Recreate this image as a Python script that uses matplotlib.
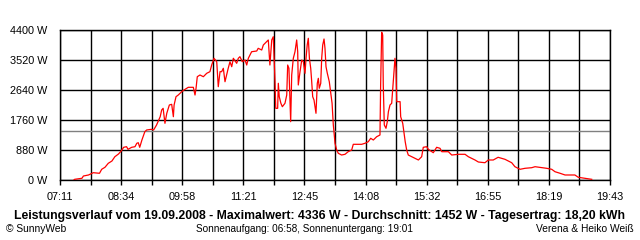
import matplotlib
matplotlib.use("Agg")
import matplotlib.pyplot as plt
import numpy as np

# time in minutes since midnight, power in W
minutes = [450, 451, 461, 463, 470, 476.5, 485, 488, 492.5, 497, 502, 506, 511, 515,
           518, 522, 524, 529, 533.5, 536, 538, 540, 543, 547, 549.5, 556, 559, 563,
           568, 570, 572, 574.5, 577, 580.5, 583.7, 586, 587, 589.6, 592.7, 597.4,
           600.5, 606.4, 613.3, 615.6, 617, 618.7, 622.4, 627, 631.6, 636, 638.4,
           641.6, 645.3, 647.4, 649.8, 652, 654.3, 656.6, 661, 663.4, 665.8, 668,
           672.6, 674.8, 677, 680.3, 684, 686.3, 688.5, 693, 700, 702, 706.8, 709,
           711.3, 715.8, 718, 720.5, 722.6, 725, 726, 728.6, 729.5, 730.8, 733, 735,
           738.6, 741, 742.3, 744, 746.4, 747.8, 750, 752.3, 754.6, 756, 756.8, 759,
           761.5, 763.7, 766, 767.4, 769, 770.5, 772, 773.8, 775, 776.5, 778.3,
           779.7, 781, 782.8, 784.2, 785.5, 787.5, 788.8, 790.2, 792, 793.3, 794.7,
           796.5, 799.2, 801, 803, 804.7, 805.6, 807, 809.3, 811.5, 816, 820.7, 825,
           829.8, 832, 843.5, 848, 852.5, 855.8, 859.4, 864, 868.5, 869.4, 870.8,
           872.2, 873, 874.4, 876.7, 878.5, 880, 882.2, 884.5, 886.7, 889, 890.4,
           891.4, 896, 896.8, 899.6, 901.4, 903, 905, 907.2, 911.8, 916.4, 921,
           925.5, 927.7, 932.4, 934.6, 941.4, 946, 950.6, 953, 962, 966.6, 975.6,
           984.8, 989.3, 998.4, 1003, 1012, 1016.6, 1023.4, 1030, 1039.4, 1048.6,
           1053, 1060, 1066.8, 1076, 1080.5, 1096.4, 1103.3, 1107.8, 1114.7, 1121.5,
           1135, 1139.7, 1148.8, 1158]
power = [0, 20, 50, 117, 147, 214, 197, 314, 373, 490, 557, 683, 763, 859,
         959, 977, 900, 959, 977, 1077, 1094, 959, 1173, 1417, 1467, 1487, 1467, 1613,
         1857, 2053, 2103, 1663, 1957, 2200, 2220, 1857, 2200, 2443, 2493, 2590,
         2640, 2719, 2719, 2493, 2690, 3030, 3080, 3030, 3130, 3177, 3373,
         3570, 3470, 2737, 3177, 3177, 3277, 2883, 3277, 3470, 3323, 3570,
         3423, 3570, 3617, 3470, 3520, 3373, 3570, 3763, 3784, 3863, 3813, 3960,
         4010, 4107, 3373, 4107, 4203, 2883, 2103, 2103, 2837, 2443, 2250, 2150,
         2250, 2493, 3373, 3277, 1710, 3080, 3570, 3763, 4107, 3763, 2787, 3150,
         3520, 3470, 3130, 3570, 3960, 4157, 3570, 3277, 2933, 2443, 2347,
         2150, 1957, 2837, 2983, 2690, 2837, 3570, 3960, 4136, 3863, 3323,
         3130, 2883, 2590, 2250, 1613, 1417, 1077, 880, 783, 733, 754, 830,
         880, 1047, 1047, 1077, 1123, 1223, 1173, 1270, 1320, 2787, 4336,
         4253, 2787, 1613, 1517, 1710, 2003, 2200, 2250, 2883, 3570, 3277,
         2297, 2297, 1857, 1663, 1370, 1123, 880, 733, 683, 636, 587,
         683, 959, 977, 900, 801, 959, 930, 830, 830, 733, 754,
         754, 683, 587, 528, 507, 587, 587, 666, 607, 507,
         390, 314, 343, 361, 390, 343, 314, 243, 197, 147,
         147, 79, 50, 20]

average = 1452
y_ticks = [0, 880, 1760, 2640, 3520, 4400]
x_labels = ["07:11", "08:34", "09:58", "11:21", "12:45", "14:08", "15:32",
            "16:55", "18:19", "19:43"]
t_start, t_end = 431, 1183

title = ("Leistungsverlauf vom 19.09.2008 - Maximalwert: 4336 W - "
         "Durchschnitt: 1452 W - Tagesertrag: 18,20 kWh")

plt.rcParams['font.family'] = ['Liberation Sans', 'DejaVu Sans']

fig = plt.figure(figsize=(6.4, 2.4), dpi=100)
ax = fig.add_axes([60 / 640, 60 / 240, 550 / 640, 150 / 240])

ax.set_xlim(t_start, t_end)
ax.set_ylim(0, 4400)

# grid: 18 vertical intervals, labels on every second one
x_ticks = np.linspace(t_start, t_end, 19)
ax.set_xticks(x_ticks)
ax.set_xticklabels([x_labels[i // 2] if i % 2 == 0 else "" for i in range(19)])
ax.set_yticks(y_ticks)
ax.set_yticklabels([f"{v} W" for v in y_ticks])
ax.grid(True, color="black", linewidth=1.0)
ax.set_axisbelow(True)
ax.tick_params(axis="x", length=5 * 0.72, width=1.0, direction="out",
               labelsize=7.8, pad=5)
ax.tick_params(axis="y", length=0, labelsize=7.8, pad=9)
for s in ax.spines.values():
    s.set_linewidth(1.0)

ax.axhline(average, color="#808080", linewidth=1.0, zorder=2)
ax.plot(minutes, power, color="red", linewidth=0.9, zorder=3)

fig.text(0.5, 1 - 216 / 240, title, ha="center", va="center",
         fontsize=8.8, fontweight="bold")
fig.text(6 / 640, 1 - 229 / 240, "\u00a9 SunnyWeb", ha="left", va="center",
         fontsize=7.4)
fig.text(305 / 640, 1 - 229 / 240,
         "Sonnenaufgang: 06:58, Sonnenuntergang: 19:01",
         ha="center", va="center", fontsize=7.2)
fig.text(634 / 640, 1 - 229 / 240, "Verena & Heiko Weiß", ha="right",
         va="center", fontsize=7.4)

fig.savefig("out.png", dpi=100, facecolor="white")
